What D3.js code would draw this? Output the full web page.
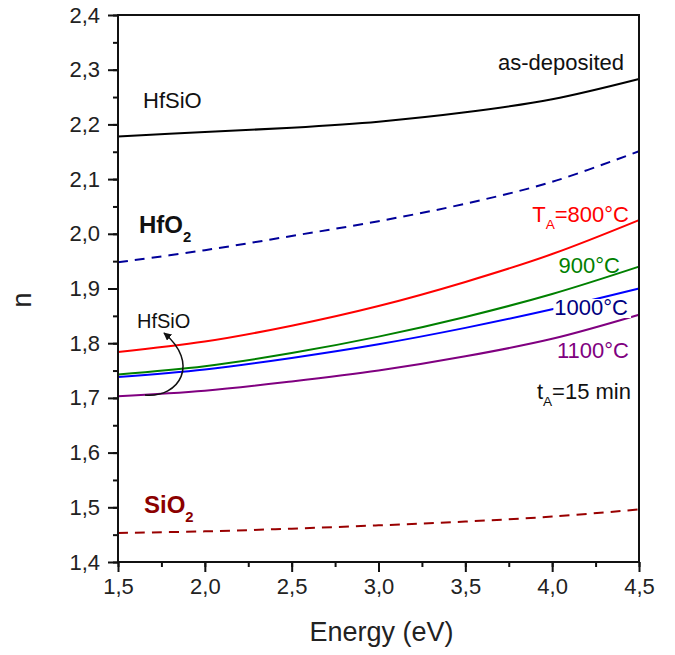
<!DOCTYPE html>
<html>
<head>
<meta charset="utf-8">
<script src="https://cdn.jsdelivr.net/npm/d3@7"></script>
<style>
  body { margin: 0; background: #fff; }
  svg { display: block; font-family: Arial, "Liberation Sans", sans-serif; }
</style>
</head>
<body>
<div id="chart"></div>
<script>
// photon energy (eV) where the curves were read
const energy = [1.5, 2.0, 2.5, 3.0, 3.5, 4.0, 4.5]
// refractive index n for each film
const asDeposited = [2.178, 2.186, 2.194, 2.205, 2.222, 2.246, 2.283]
const hfo2 = [1.948, 1.970, 1.996, 2.023, 2.055, 2.095, 2.151]
const t800 = [1.784, 1.803, 1.832, 1.868, 1.912, 1.963, 2.025]
const t900 = [1.743, 1.758, 1.782, 1.812, 1.848, 1.890, 1.940]
const t1000 = [1.738, 1.752, 1.773, 1.798, 1.828, 1.862, 1.900]
const t1100 = [1.703, 1.713, 1.730, 1.750, 1.776, 1.808, 1.852]
const sio2 = [1.453, 1.456, 1.461, 1.467, 1.474, 1.483, 1.496]

const xTicks = [1.5, 2.0, 2.5, 3.0, 3.5, 4.0, 4.5]
const yTicks = [1.4, 1.5, 1.6, 1.7, 1.8, 1.9, 2.0, 2.1, 2.2, 2.3, 2.4]

const series = [
  {values: sio2, color: '#990000', dash: '10,7'},
  {values: hfo2, color: '#000099', dash: '10,7'},
  {values: t1100, color: '#800080'},
  {values: t1000, color: '#0000ff'},
  {values: t900, color: '#008000'},
  {values: t800, color: '#ff0000'},
  {values: asDeposited, color: '#000000'},
]

const W = 675, H = 655
const margin = {top: 15, right: 36, bottom: 93, left: 118}
const width = W - margin.left - margin.right
const height = H - margin.top - margin.bottom

const svg = d3.select('#chart').append('svg').attr('width', W).attr('height', H)
const chart = svg.append('g').attr('transform', `translate(${margin.left},${margin.top})`)

const x = d3.scaleLinear().domain([1.5, 4.5]).range([0, width])
const y = d3.scaleLinear().domain([1.4, 2.4]).range([height, 0])
const fmt = d => d3.format('.1f')(d).replace('.', ',')

svg.append('defs').append('marker')
  .attr('id', 'arrow')
  .attr('viewBox', '0 0 10 10')
  .attr('refX', 9).attr('refY', 5)
  .attr('markerWidth', 8).attr('markerHeight', 8)
  .attr('markerUnits', 'userSpaceOnUse')
  .attr('orient', 'auto')
  .append('path').attr('d', 'M0,0L10,5L0,10z').attr('fill', '#111')

const line = d3.line()
  .x((d, i) => x(energy[i]))
  .y(d => y(d))
  .curve(d3.curveCatmullRom.alpha(0.5))

chart.append('g').selectAll('path')
  .data(series)
  .enter().append('path')
  .attr('d', d => line(d.values))
  .attr('fill', 'none')
  .attr('stroke', d => d.color)
  .attr('stroke-width', 2)
  .attr('stroke-dasharray', d => d.dash || null)

// axes: major + minor ticks, outward
const xMinor = d3.range(1.5, 4.5001, 0.25)
const yMinor = d3.range(1.4, 2.4001, 0.05)
const xAxis = chart.append('g').attr('transform', `translate(0,${height})`)
xAxis.call(d3.axisBottom(x).tickValues(xMinor).tickSize(5).tickFormat(''))
xAxis.append('g').call(d3.axisBottom(x).tickValues(xTicks).tickSize(10).tickPadding(6).tickFormat(fmt))
const yAxis = chart.append('g')
yAxis.call(d3.axisLeft(y).tickValues(yMinor).tickSize(5).tickFormat(''))
yAxis.append('g').call(d3.axisLeft(y).tickValues(yTicks).tickSize(10).tickPadding(8).tickFormat(fmt))
chart.selectAll('.domain').remove()
chart.selectAll('.tick line').attr('stroke', '#111').attr('stroke-width', 2)
chart.selectAll('.tick text').attr('fill', '#222').attr('font-size', 22)
  .attr('font-family', 'Arial, "Liberation Sans", sans-serif')

chart.append('rect')
  .attr('width', width).attr('height', height)
  .attr('fill', 'none').attr('stroke', '#111').attr('stroke-width', 2)

svg.append('text')
  .attr('x', margin.left + width / 2 + 3).attr('y', 641)
  .attr('text-anchor', 'middle').attr('font-size', 27).attr('fill', '#222')
  .text('Energy (eV)')
svg.append('text')
  .attr('transform', 'translate(31,300) rotate(-90)')
  .attr('text-anchor', 'middle').attr('font-size', 27).attr('fill', '#222')
  .text('n')

// annotations: parts are plain strings or {sub: '...'}
const annot = svg.append('g')
function label(px, py, parts, opts) {
  const t = annot.append('text').attr('x', px).attr('y', py)
    .attr('font-size', opts.size).attr('fill', opts.color)
    .attr('font-weight', opts.bold ? 'bold' : null)
    .attr('text-anchor', opts.anchor || 'start')
  let shift = 0
  parts.forEach(p => {
    if (typeof p === 'string') {
      t.append('tspan').attr('dy', -shift).text(p)
      shift = 0
    } else {
      shift = opts.subDy || 8
      t.append('tspan').attr('font-size', opts.size * 0.62).attr('dy', shift).text(p.sub)
    }
  })
  return t
}

label(143, 108, ['HfSiO'], {size: 22, color: '#111'})
label(624, 70, ['as-deposited'], {size: 22, color: '#111', anchor: 'end'})
label(139, 233, ['HfO', {sub: '2'}], {size: 24, color: '#111', bold: true, subDy: 9})
label(629, 222, ['T', {sub: 'A'}, '=800°C'], {size: 22, color: '#ff0000', anchor: 'end', subDy: 7})
label(620, 273, ['900°C'], {size: 22, color: '#008000', anchor: 'end'})
label(629, 358, ['1100°C'], {size: 22, color: '#800080', anchor: 'end'})
const lbl1000 = label(628, 315, ['1000°C'], {size: 22, color: '#000080', anchor: 'end'})
const bb = lbl1000.node().getBBox()
annot.insert('rect', () => lbl1000.node())
  .attr('x', bb.x - 1).attr('y', bb.y + 4).attr('width', bb.width + 4).attr('height', bb.height - 6)
  .attr('fill', '#fff')
label(631, 399, ['t', {sub: 'A'}, '=15 min'], {size: 22, color: '#111', anchor: 'end', subDy: 7})
label(137, 328, ['HfSiO'], {size: 20, color: '#111'})
label(144, 513, ['SiO', {sub: '2'}], {size: 24, color: '#8b0000', bold: true, subDy: 9})

annot.append('path')
  .attr('d', 'M145,395 C180,398 200,363 164,333')
  .attr('fill', 'none').attr('stroke', '#111').attr('stroke-width', 1.5)
  .attr('marker-end', 'url(#arrow)')
</script>
</body>
</html>
